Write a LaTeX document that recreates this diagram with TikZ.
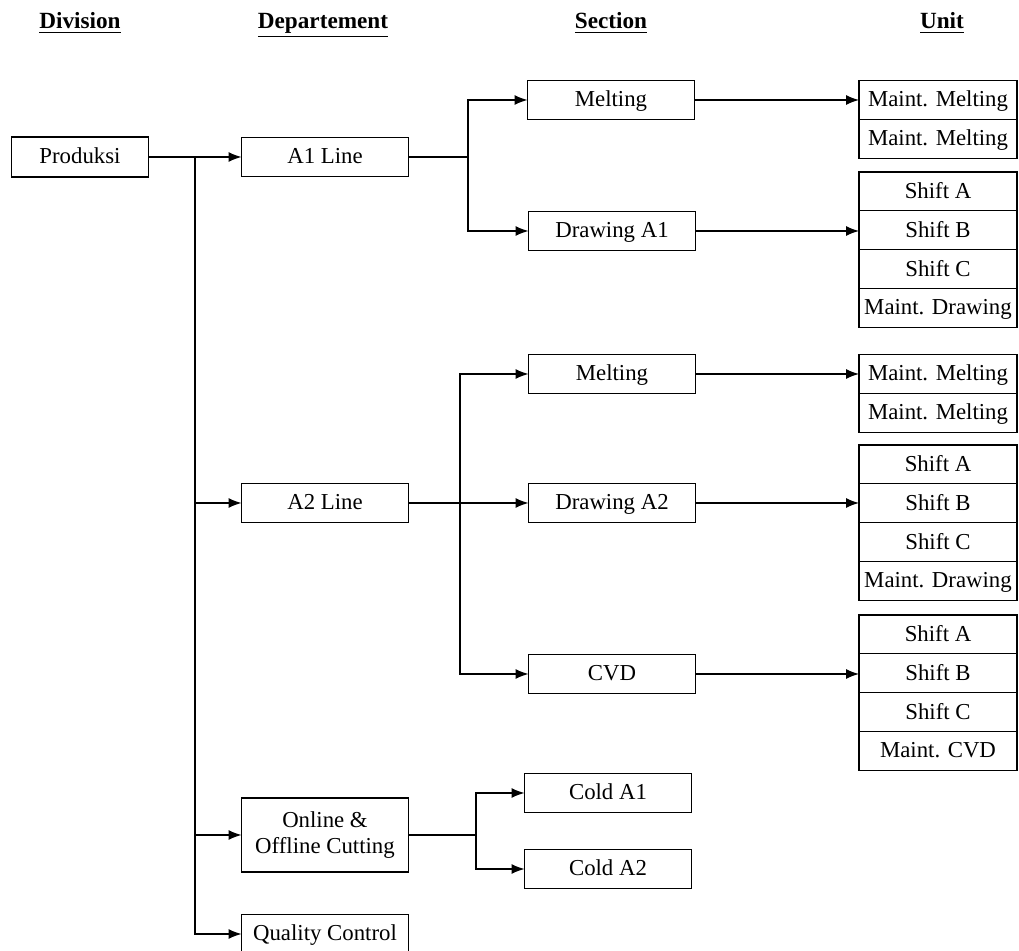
\documentclass[tikz,border=0pt]{standalone}
\usepackage{fontspec}
\setmainfont{Liberation Serif}
\usepackage{tikz}
\usetikzlibrary{arrows.meta}
\usetikzlibrary{positioning}
\tikzstyle{box}=[draw,rectangle,minimum height=19.5pt,inner sep=1pt,outer sep=0pt,text height=9pt,text depth=2pt,font=\fontsize{11.4}{13}\selectfont]
\tikzstyle{unit}=[box,minimum width=79pt,minimum height=19.4pt]

\begin{document}
\begin{tikzpicture}[
  x=0.5pt,y=-0.5pt,
  line width=0.6pt,
  head/.style={font=\fontsize{11.6}{13}\selectfont\bfseries,text height=9pt,text depth=2pt},
  div/.style={box,minimum width=68.5pt,minimum height=20pt},
  dept/.style={box,minimum width=83.5pt},
  sect/.style={box,minimum width=83.5pt},
  link/.style={->,>={Latex[length=6.5pt,width=5pt]}},
]
\useasboundingbox (0,0) rectangle (1019,951);

% column titles
\node[head] (hdiv) at (80,22) {\underline{Division}};
\node[head] (hdep) at (323,22) {\underline{Departement}};
\node[head] (hsec) at (611,22) {\underline{Section}};
\node[head] (hunit) at (942,22) {\underline{Unit}};

% division and departements
\node[div] (prod) at (80,157) {Produksi};
\node[dept] (a1) at (325,157) {A1 Line};
\node[dept] (a2) at (325,503) {A2 Line};
\node[dept,minimum height=37pt,align=center,text height=,text depth=] (cut) at (325,835) {Online \&\\Offline Cutting};
\node[dept] (qc) at (325,934) {Quality Control};

% sections
\node[sect] (m1) at (611,100) {Melting};
\node[sect] (d1) at (612,231) {Drawing A1};
\node[sect] (m2) at (612,374) {Melting};
\node[sect] (d2) at (612,503) {Drawing A2};
\node[sect] (cvd) at (612,674) {CVD};
\node[sect] (c1) at (608,793) {Cold A1};
\node[sect] (c2) at (608,869) {Cold A2};

% units
\node[unit] (u11) at (938,100) {Maint. Melting};
\node[unit,below=0pt of u11] (u12) {Maint. Melting};

\node[unit] (u21) at (938,191.5) {Shift A};
\node[unit,below=0pt of u21] (u22) {Shift B};
\node[unit,below=0pt of u22] (u23) {Shift C};
\node[unit,below=0pt of u23] (u24) {Maint. Drawing};

\node[unit] (u31) at (938,374) {Maint. Melting};
\node[unit,below=0pt of u31] (u32) {Maint. Melting};

\node[unit] (u41) at (938,464.5) {Shift A};
\node[unit,below=0pt of u41] (u42) {Shift B};
\node[unit,below=0pt of u42] (u43) {Shift C};
\node[unit,below=0pt of u43] (u44) {Maint. Drawing};

\node[unit] (u51) at (938,634.5) {Shift A};
\node[unit,below=0pt of u51] (u52) {Shift B};
\node[unit,below=0pt of u52] (u53) {Shift C};
\node[unit,below=0pt of u53] (u54) {Maint. CVD};

% bus points
\coordinate (b0) at (195,157);
\coordinate (b1) at (468,157);
\coordinate (b2) at (460,503);
\coordinate (b3) at (476,835);

\draw[link] (prod) -- (a1);
\draw (b0) -- (b0 |- qc);
\draw[link] (b0) |- (a2);
\draw[link] (b0) |- (cut);
\draw[link] (b0) |- (qc);

\draw (a1) -- (b1);
\draw[link] (b1) |- (m1);
\draw[link] (b1) |- (d1);

\draw (a2) -- (b2);
\draw[link] (b2) |- (m2);
\draw[link] (b2) |- (d2);
\draw[link] (b2) |- (cvd);

\draw (cut) -- (b3);
\draw[link] (b3) |- (c1);
\draw[link] (b3) |- (c2);

% sections to units
\draw[link] (m1.east) -- (m1.east -| u11.west);
\draw[link] (d1.east) -- (d1.east -| u22.west);
\draw[link] (m2.east) -- (m2.east -| u31.west);
\draw[link] (d2.east) -- (d2.east -| u42.west);
\draw[link] (cvd.east) -- (cvd.east -| u52.west);
\end{tikzpicture}
\end{document}
